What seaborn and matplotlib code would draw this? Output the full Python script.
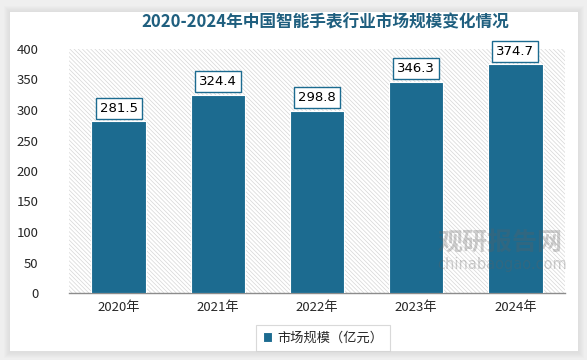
import numpy as np
import pandas as pd
import matplotlib
matplotlib.use('Agg')
import matplotlib.pyplot as plt
import seaborn as sns
from matplotlib.patches import Rectangle

# 数据
years = ['2020年', '2021年', '2022年', '2023年', '2024年']
market_size = [281.5, 324.4, 298.8, 346.3, 374.7]
series_name = '市场规模（亿元）'
title = '2020-2024年中国智能手表行业市场规模变化情况'

df = pd.DataFrame({'year': years, 'value': market_size})

sns.set_theme(style='white')
plt.rcParams['font.family'] = ['Noto Sans CJK SC', 'DejaVu Sans']
plt.rcParams['hatch.linewidth'] = 0.5

bar_color = '#1c6b90'
title_color = '#1f5f7f'

fig = plt.figure(figsize=(5.87, 3.60), dpi=100)
fig.patch.set_facecolor('#efefef')

# 卡片背景 + 阴影
W, H = 587, 360
for i in range(6):
    pad = 6 - i
    fig.patches.append(Rectangle(((10 - pad) / W, (360 - 352 - pad) / H),
                                 (568 + 2 * pad) / W, (340 + 2 * pad) / H,
                                 transform=fig.transFigure, facecolor='#b0b0b0',
                                 edgecolor='none', alpha=0.04, zorder=0))
fig.patches.append(Rectangle((10 / W, (360 - 351) / H), 568 / W, 339 / H,
                             transform=fig.transFigure, facecolor='white',
                             edgecolor='none', zorder=1))

ax = fig.add_axes([69 / W, (360 - 293) / H, 496 / W, 244 / H])
ax.set_facecolor('none')
ax.set_zorder(2)

# 斜线底纹
ax.add_patch(Rectangle((0, 0), 1, 1, transform=ax.transAxes, facecolor='white',
                       edgecolor='#d6d6d6', hatch='\\' * 8, linewidth=0, zorder=0))

sns.barplot(data=df, x='year', y='value', color=bar_color, width=0.55,
            saturation=1, ax=ax, zorder=3, label=series_name)
for p in ax.patches[1:]:
    p.set_edgecolor('white')
    p.set_linewidth(0.8)

for i, v in enumerate(market_size):
    ax.text(i, v + 11, f'{v}', ha='center', va='bottom', fontsize=9.5, color='black',
            zorder=5, family=['DejaVu Sans'],
            bbox=dict(boxstyle='square,pad=0.3', facecolor='white', edgecolor=bar_color,
                      linewidth=1))

ax.set_ylim(0, 400)
ax.set_xlim(-0.5, 4.5)
ax.set_yticks(range(0, 401, 50))
ax.set_xlabel('')
ax.set_ylabel('')
ax.tick_params(axis='y', labelsize=9.5, length=0, pad=22)
ax.tick_params(axis='x', labelsize=9.5, length=0, pad=6)
for s in ['top', 'right', 'left']:
    ax.spines[s].set_visible(False)
ax.spines['bottom'].set_color('#8c8c8c')
ax.spines['bottom'].set_linewidth(1)
ax.grid(False)

fig.text(325 / W, 1 - 22 / H, title, ha='center', va='center', fontsize=12,
         fontweight='bold', color=title_color, zorder=5)

leg = ax.legend(loc='center', bbox_to_anchor=(323 / W, 1 - 338 / H),
                bbox_transform=fig.transFigure, frameon=True, fontsize=9.5,
                handlelength=0.7, handleheight=0.7, handletextpad=0.4,
                borderpad=0.5, fancybox=False)
leg.get_frame().set_edgecolor('#d0d0d0')
leg.get_frame().set_linewidth(0.8)

# 水印
fig.text(500 / W, 1 - 243 / H, '观研报告网', ha='center', va='center', fontsize=18,
         fontweight='bold', color='#606060', alpha=0.3, zorder=6)
fig.text(502 / W, 1 - 265 / H, 'chinabaogao.com', ha='center', va='center', fontsize=10.5,
         color='#606060', alpha=0.3, zorder=6, family=['DejaVu Sans'])

fig.savefig('out.png', dpi=100, facecolor=fig.get_facecolor())
